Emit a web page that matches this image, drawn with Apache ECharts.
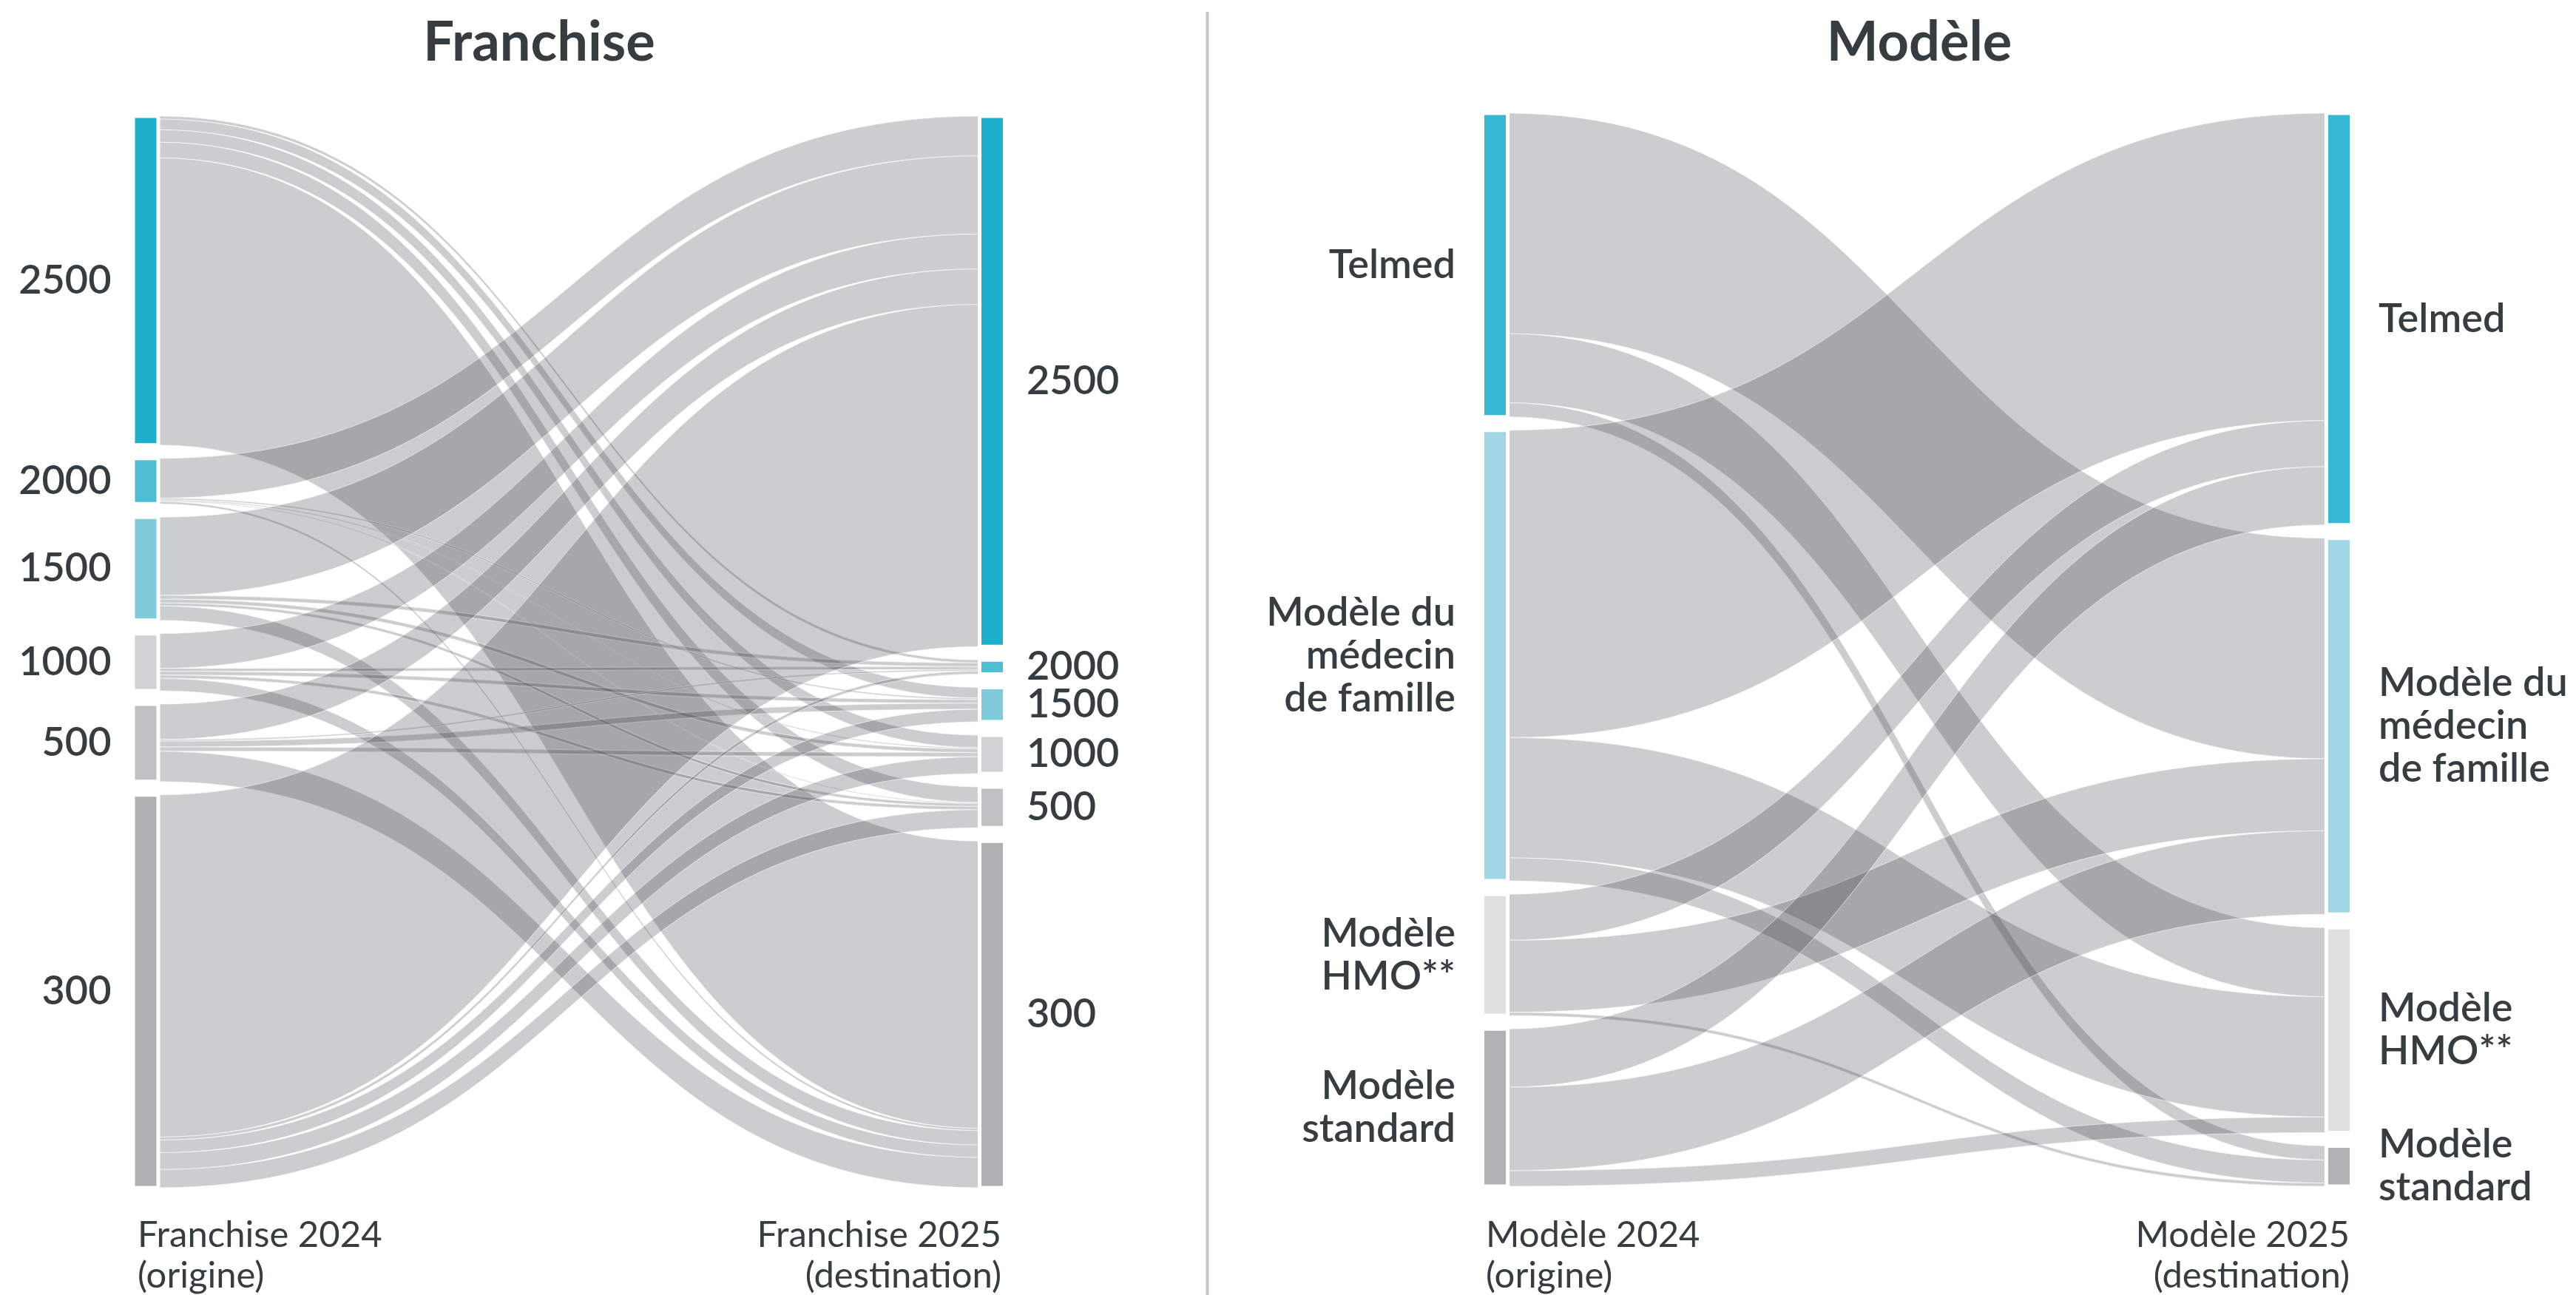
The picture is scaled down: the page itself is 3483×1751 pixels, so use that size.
<!DOCTYPE html>
<html>
<head>
<meta charset="utf-8">
<title>Franchise / Modèle</title>
<script src="https://cdn.jsdelivr.net/npm/echarts@6/dist/echarts.min.js"></script>
<style>
html, body { margin: 0; padding: 0; background: #fff; }
#chart { width: 3483px; height: 1751px; }
</style>
</head>
<body>
<div id="chart"></div>
<script>
// franchise levels, 2024 (rows, origine) -> 2025 (columns, destination)
var franchiseLevels = ['2500', '2000', '1500', '1000', '500', '300'];
var franchiseFlows = [
  [0, 4, 14.3, 16.7, 21, 385.3],
  [53.3, 0, 2, 1.5, 1.2, 3],
  [105, 5, 0, 5, 4, 19.3],
  [46.7, 4, 5, 0, 4.3, 16.7],
  [47.6, 2, 8, 5.7, 0, 40.7],
  [459, 4, 17, 22.6, 24.4, 0]
];

// insurance models, same layout
var modeleLevels = ['Telmed', 'Modèle du\nmédecin\nde famille', 'Modèle\nHMO**', 'Modèle\nstandard'];
var modeleFlows = [
  [0, 297, 93, 19],
  [414, 0, 162, 31],
  [62, 97, 0, 4.4],
  [78.5, 112.5, 21, 0]
];

var franchiseColors = ['#1eafcc', '#4fbed5', '#7fcbdb', '#d2d2d4', '#c1c1c3', '#b0b0b2'];
var modeleColors = ['#36b7d2', '#a3d6e4', '#e0e0e0', '#b1b1b3'];

var textColor = '#373c41';
var fontFamily = 'Lato, "Noto Sans", sans-serif';

function buildSankey(levels, flows, colors, box, labelDist) {
  var nodes = [];
  var links = [];
  levels.forEach(function (lv, i) {
    nodes.push({ name: 'o|' + lv, depth: 0, itemStyle: { color: colors[i] }, label: { position: 'left' } });
  });
  levels.forEach(function (lv, i) {
    nodes.push({ name: 'd|' + lv, depth: 1, itemStyle: { color: colors[i] }, label: { position: 'right' } });
  });
  flows.forEach(function (row, i) {
    row.forEach(function (v, j) {
      if (v > 0) {
        links.push({ source: 'o|' + levels[i], target: 'd|' + levels[j], value: v });
      }
    });
  });
  return {
    type: 'sankey',
    left: box.left,
    top: box.top,
    width: box.width,
    height: box.height,
    nodeWidth: 34,
    nodeGap: 18,
    layoutIterations: 0,
    draggable: false,
    emphasis: { disabled: true },
    label: {
      color: textColor,
      fontFamily: fontFamily,
      fontSize: 54,
      fontWeight: 600,
      lineHeight: 58,
      distance: labelDist,
      formatter: function (p) { return p.name.split('|')[1]; }
    },
    itemStyle: { borderColor: '#fff', borderWidth: 5 },
    lineStyle: {
      color: 'rgba(52,55,62,0.25)',
      opacity: 1,
      curveness: 0.5,
      borderColor: 'rgba(255,255,255,0.6)',
      borderWidth: 1
    },
    data: nodes,
    links: links
  };
}

function caption(text, x, align) {
  return {
    type: 'text',
    style: {
      text: text, x: x, y: 1698,
      fill: textColor, fontFamily: fontFamily, fontSize: 49, lineHeight: 55,
      textAlign: align, textVerticalAlign: 'middle'
    }
  };
}

function heading(text, x) {
  return {
    type: 'text',
    style: {
      text: text, x: x, y: 58,
      fill: textColor, fontFamily: fontFamily, fontSize: 74, fontWeight: 'bold',
      textAlign: 'center', textVerticalAlign: 'middle'
    }
  };
}

var myChart = echarts.init(document.getElementById('chart'));
var option = {
  animation: false,
  backgroundColor: '#fff',
  graphic: [
    heading('Franchise', 729),
    heading('Modèle', 2595),
    caption('Franchise 2024\n(origine)', 186, 'left'),
    caption('Franchise 2025\n(destination)', 1354, 'right'),
    caption('Modèle 2024\n(origine)', 2009, 'left'),
    caption('Modèle 2025\n(destination)', 3177, 'right'),
    {
      type: 'line',
      shape: { x1: 1632.5, y1: 16, x2: 1632.5, y2: 1751 },
      style: { stroke: '#c6c6c6', lineWidth: 4 }
    }
  ],
  series: [
    buildSankey(franchiseLevels, franchiseFlows, franchiseColors,
      { left: 180, top: 157, width: 1178.5, height: 1449 }, 27),
    buildSankey(modeleLevels, modeleFlows, modeleColors,
      { left: 2004.5, top: 153, width: 1175, height: 1451 }, 34)
  ]
};
myChart.setOption(option);
</script>
</body>
</html>
